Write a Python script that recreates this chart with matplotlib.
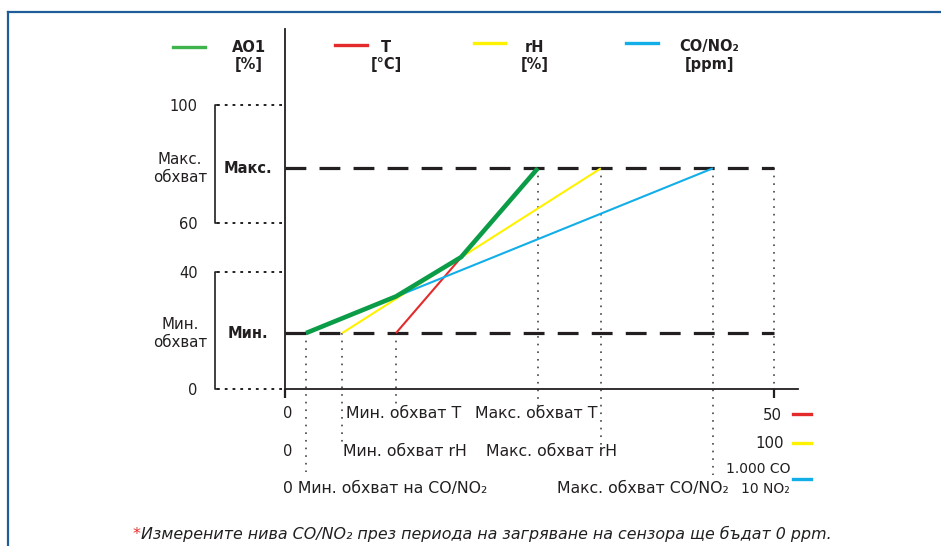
import numpy as np
import matplotlib
matplotlib.use("Agg")
import matplotlib.pyplot as plt
from matplotlib.lines import Line2D
from matplotlib.transforms import blended_transform_factory

plt.rcParams['font.family'] = ['DejaVu Sans']
plt.rcParams['lines.scale_dashes'] = False

INK = '#231f20'
W, H = 941, 546

# y axis: tick values and where they sit on the drawing (the 40..60 band is squeezed)
y_tick_values = [0, 40, 60, 100]
y_scale_values = [-100, 0, 40, 60, 100, 200]
y_scale_layout = [-100, 0, 40, 56.7, 97.0, 197.0]

# output levels of AO1 [%]
min_level = 19.1
max_level = 78.5

# sensor ranges as share of the x axis (0 .. 100 = 0 .. 50 °C / 100 % / 1.000 CO, 10 NO2)
sensors = ['T', 'rH', 'CO/NO₂']
sensor_colors = ['#e42b2b', '#fff200', '#12aee8']
range_start = [22.7, 11.7, 4.3]
range_end = [51.7, 64.6, 87.5]

# AO1 follows the highest of the three
ao1_x = [4.3, 22.7, 36.0, 51.7]
ao1_y = [19.1, 31.6, 46.0, 78.5]

legend_titles = ['AO1', 'T', 'rH', 'CO/NO₂']
legend_units = ['[%]', '[°C]', '[%]', '[ppm]']
legend_colors = ['#3db54a', '#e42b2b', '#fff200', '#12aee8']

row_left = ['Мин. обхват T', 'Мин. обхват rH', 'Мин. обхват на CO/NO₂']
row_right = ['Макс. обхват T', 'Макс. обхват rH', 'Макс. обхват CO/NO₂']
row_full = ['50', '100', '1.000 CO', '10 NO₂']

note = 'Измерените нива CO/NO₂ през периода на загряване на сензора ще бъдат 0 ppm.'


def fwd(v):
    return np.interp(v, y_scale_values, y_scale_layout)


def inv(v):
    return np.interp(v, y_scale_layout, y_scale_values)


fig = plt.figure(figsize=(W / 100, H / 100), dpi=100)
px_x = 4.89  # pixels per x unit
ax = fig.add_axes([285 / W, (H - 389) / H, 105 * px_x / W, 360 / H])
ax.set_yscale('function', functions=(fwd, inv))
ax.set_xlim(0, 105)
ax.set_ylim(0, inv(122.9))

for s in ['top', 'right']:
    ax.spines[s].set_visible(False)
for s in ['left', 'bottom']:
    ax.spines[s].set_color(INK)
    ax.spines[s].set_linewidth(1.3)

ax.set_xticks([0, 100])
ax.set_xticklabels([])
ax.tick_params(axis='x', direction='out', length=6.5, width=1.6, color=INK)
ax.set_yticks(y_tick_values)
ax.set_yticklabels([str(v) for v in y_tick_values], fontsize=10.5, color=INK)
ax.tick_params(axis='y', length=0, pad=63)
ax.minorticks_off()

# dotted guides from the brackets to the axis
for v in y_tick_values:
    ax.plot([-13.9, 0], [v, v], color=INK, lw=1.4, ls=(0, (2, 3.6)), clip_on=False)

# brackets for the ranges
for lo, hi in [(60, 100), (0, 40)]:
    ax.plot([-13.6, -14.3, -14.3, -13.6], [lo, lo, hi, hi], color=INK, lw=1.2, clip_on=False)

ax.text(-21.5, 78.5, 'Макс.\nобхват', ha='center', va='center', fontsize=10.8,
        color=INK, linespacing=1.25)
ax.text(-21.5, 19.1, 'Мин.\nобхват', ha='center', va='center', fontsize=10.8,
        color=INK, linespacing=1.25)
ax.text(-7.6, max_level, 'Макс.', ha='center', va='center', fontsize=10.5,
        fontweight='bold', color=INK)
ax.text(-7.6, min_level, 'Мин.', ha='center', va='center', fontsize=10.5,
        fontweight='bold', color=INK)

# min / max output levels
for lvl in [min_level, max_level]:
    ax.plot([0, 100], [lvl, lvl], color=INK, lw=2.3, ls=(0, (15, 9.5)), zorder=2)

# vertical guides at the range limits
dot = dict(color='#444444', lw=1.2, ls=(0, (1.2, 4.3)), clip_on=False, zorder=1)
start_bottom = [-5.5, -19.5, -28.3]
end_bottom = [-6.1, -19.5, -29.4]
for i in range(3):
    ax.plot([range_start[i], range_start[i]], [min_level, inv(start_bottom[i])], **dot)
    ax.plot([range_end[i], range_end[i]], [max_level, inv(end_bottom[i])], **dot)
ax.plot([100, 100], [max_level, 0], **dot)

# sensor lines
for i in range(3):
    ax.plot([range_start[i], range_end[i]], [min_level, max_level],
            color=sensor_colors[i], lw=1.5, zorder=3, solid_capstyle='butt')
ax.plot(ao1_x, ao1_y, color='#0b9c48', lw=3.3, zorder=4, solid_capstyle='butt')

# labels under the x axis
tr = blended_transform_factory(ax.transData, fig.transFigure)


def fy(px):
    return 1 - px / H


fs = 11.3
ax.text(0.6, fy(414), '0', transform=tr, ha='center', va='center', fontsize=10.5, color=INK)
ax.text(0.6, fy(452), '0', transform=tr, ha='center', va='center', fontsize=10.5, color=INK)
ax.text(-0.4, fy(488), '0 ' + row_left[2], transform=tr, ha='left', va='center',
        fontsize=fs, color=INK)
ax.text(12.4, fy(414), row_left[0], transform=tr, ha='left', va='center', fontsize=fs, color=INK)
ax.text(11.9, fy(452), row_left[1], transform=tr, ha='left', va='center', fontsize=fs, color=INK)
ax.text(63.9, fy(414), row_right[0], transform=tr, ha='right', va='center', fontsize=fs, color=INK)
ax.text(67.9, fy(452), row_right[1], transform=tr, ha='right', va='center', fontsize=fs, color=INK)
ax.text(90.8, fy(488), row_right[2], transform=tr, ha='right', va='center', fontsize=fs, color=INK)

ax.text(101.6, fy(415), row_full[0], transform=tr, ha='right', va='center', fontsize=10.8, color=INK)
ax.text(102.0, fy(444), row_full[1], transform=tr, ha='right', va='center', fontsize=10.8, color=INK)
ax.text(103.3, fy(469), row_full[2], transform=tr, ha='right', va='center', fontsize=10,
        color=INK)
ax.text(103.3, fy(489), row_full[3], transform=tr, ha='right', va='center', fontsize=10,
        color=INK)
for y_px, c in zip([414, 443, 479], sensor_colors):
    ax.plot([103.9, 107.5], [fy(y_px)] * 2, transform=tr, color=c, lw=2.4, clip_on=False)

# legend on top
leg_line = [(173, 205), (335, 367), (474, 505), (626, 658)]
leg_line_y = [47, 45, 43, 43]
leg_text_x = [249, 386, 535, 709]
for i in range(4):
    x0 = (leg_line[i][0] - 285) / px_x
    x1 = (leg_line[i][1] - 285) / px_x
    ax.plot([x0, x1], [fy(leg_line_y[i])] * 2, transform=tr, color=legend_colors[i],
            lw=2.4, clip_on=False)
    xt = (leg_text_x[i] - 285) / px_x
    ax.text(xt, fy(47), legend_titles[i], transform=tr, ha='center', va='center',
            fontsize=10.5, fontweight='bold', color=INK)
    ax.text(xt, fy(65), legend_units[i], transform=tr, ha='center', va='center',
            fontsize=10.5, fontweight='bold', color=INK)

# footnote
fig.text(141 / W, fy(534), '*', ha='right', va='center', fontsize=11.4, color='#e42b2b',
         style='italic')
fig.text(141 / W, fy(534), note, ha='left', va='center', fontsize=11.4, color=INK,
         style='italic')

# blue frame
frame = '#1f5d99'
fig.add_artist(Line2D([8 / W, 1], [fy(12), fy(12)], color=frame, lw=1.6))
fig.add_artist(Line2D([8 / W, 8 / W], [fy(12), 0], color=frame, lw=1.6))

fig.savefig('out.png', dpi=100)
